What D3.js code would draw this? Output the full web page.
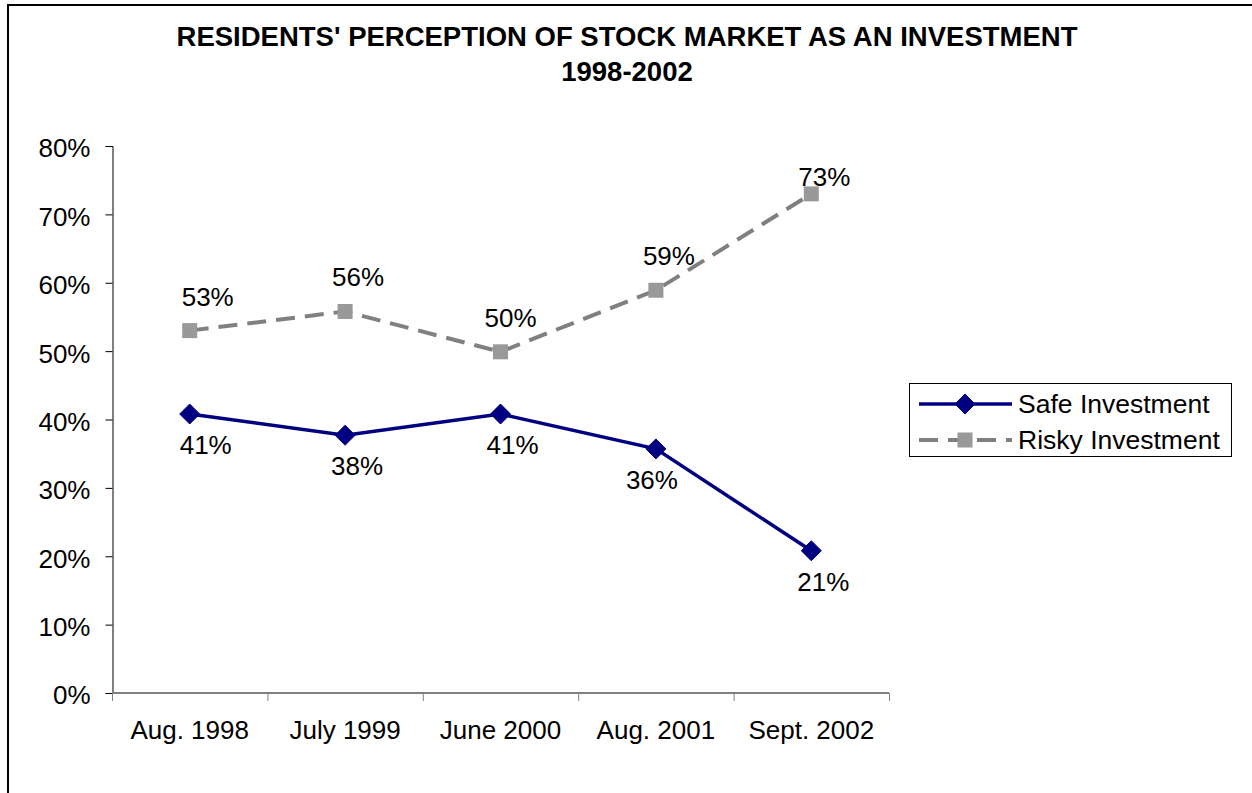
<!DOCTYPE html>
<html>
<head>
<meta charset="utf-8">
<script src="https://cdn.jsdelivr.net/npm/d3@7"></script>
<style>
  html, body { margin: 0; padding: 0; background: #fff; }
  svg { display: block; font-family: "Liberation Sans", Arial, sans-serif; }
</style>
</head>
<body>
<svg id="chart" width="1252" height="793"></svg>
<script>
const categories = ["Aug. 1998", "July 1999", "June 2000", "Aug. 2001", "Sept. 2002"];
const safeValues = [0.408, 0.377, 0.408, 0.357, 0.208];
const riskyValues = [0.530, 0.558, 0.499, 0.589, 0.730];
const seriesNames = ["Safe Investment", "Risky Investment"];
const yTicks = [0, 0.1, 0.2, 0.3, 0.4, 0.5, 0.6, 0.7, 0.8];
const titleLines = ["RESIDENTS' PERCEPTION OF STOCK MARKET AS AN INVESTMENT", "1998-2002"];

const svg = d3.select("#chart");
const plot = { left: 112, right: 889, top: 146, bottom: 693 };

// outer border (extends past the window on right/bottom)
svg.append("rect").attr("x", 8).attr("y", 5).attr("width", 1400).attr("height", 1000)
  .attr("fill", "none").attr("stroke", "#000").attr("stroke-width", 2);

// title
const title = svg.append("text").attr("text-anchor", "middle")
  .attr("font-weight", "bold").attr("font-size", 27.5).attr("fill", "#000");
title.selectAll("tspan").data(titleLines).join("tspan")
  .attr("x", 627).attr("y", (d, i) => i === 0 ? 46 : 81).text(d => d);

const x = d3.scaleBand().domain(categories).range([plot.left, plot.right]).padding(0);
const y = d3.scaleLinear().domain([0, 0.8]).range([plot.bottom, plot.top]);
const cx = d => x(d) + x.bandwidth() / 2;

// y axis
const yAxis = d3.axisLeft(y).tickValues(yTicks).tickFormat(d3.format(".0%")).tickSize(7).tickPadding(15);
const gy = svg.append("g").attr("transform", `translate(${plot.left + 0.5},0)`).call(yAxis);
gy.select(".domain").attr("stroke", "#000").attr("stroke-width", 1);
gy.selectAll(".tick line").attr("stroke", "#000");
gy.selectAll(".tick text").attr("font-size", 26).attr("fill", "#000")
  .attr("font-family", "Liberation Sans, Arial, sans-serif").attr("dy", "0.42em");

// x axis with ticks at category boundaries
const gx = svg.append("g").attr("transform", `translate(0,${plot.bottom})`);
gx.append("line").attr("x1", plot.left).attr("x2", plot.right).attr("y1", 0).attr("y2", 0)
  .attr("stroke", "#808080").attr("stroke-width", 2);
const boundaries = categories.map(c => x(c)).concat([x(categories[categories.length - 1]) + x.bandwidth()]);
gx.selectAll("line.tk").data(boundaries).join("line").attr("class", "tk")
  .attr("x1", d => d + 0.5).attr("x2", d => d + 0.5).attr("y1", 0).attr("y2", 8)
  .attr("stroke", "#808080").attr("stroke-width", 1);
gx.selectAll("text").data(categories).join("text")
  .attr("x", d => cx(d)).attr("y", 46).attr("text-anchor", "middle")
  .attr("font-size", 26).attr("fill", "#000").text(d => d);

// lines
const line = d3.line().x((d, i) => cx(categories[i])).y(d => y(d));

svg.append("path").datum(riskyValues).attr("d", line).attr("fill", "none")
  .attr("stroke", "#808080").attr("stroke-width", 4).attr("stroke-dasharray", "19,10");
svg.append("path").datum(safeValues).attr("d", line).attr("fill", "none")
  .attr("stroke", "#000080").attr("stroke-width", 3.5);

const diamond = (g, px, py) => g.append("path")
  .attr("d", `M${px},${py - 10}L${px + 10},${py}L${px},${py + 10}L${px - 10},${py}Z`)
  .attr("fill", "#000080").attr("stroke", "#000080").attr("stroke-width", 1).attr("stroke-linejoin", "round");
const square = (g, px, py) => g.append("rect")
  .attr("x", px - 7.5).attr("y", py - 7.5).attr("width", 15).attr("height", 15).attr("fill", "#999999");

const marks = svg.append("g");
riskyValues.forEach((v, i) => square(marks, cx(categories[i]), y(v)));
safeValues.forEach((v, i) => diamond(marks, cx(categories[i]), y(v)));

// data labels (risky above, safe below; a couple were hand-nudged in the original)
const fmt = d3.format(".0%");
const riskyLabelPos = (d, i) => {
  let dx = 13, dy = -25;
  if (i === 0) dx = 18;
  if (i === 2) dx = 10;
  if (i === riskyValues.length - 1) dy = -8;
  return [cx(categories[i]) + dx, y(d) + dy];
};
const safeLabelPos = (d, i) => {
  let dx = 12, dy = 40;
  if (i === 0) dx = 16;
  if (i === 3) dx = -4;
  return [cx(categories[i]) + dx, y(d) + dy];
};
svg.append("g").selectAll("text").data(riskyValues).join("text")
  .attr("x", (d, i) => riskyLabelPos(d, i)[0]).attr("y", (d, i) => riskyLabelPos(d, i)[1])
  .attr("text-anchor", "middle").attr("font-size", 26).attr("fill", "#000").text(d => fmt(d));
svg.append("g").selectAll("text").data(safeValues).join("text")
  .attr("x", (d, i) => safeLabelPos(d, i)[0]).attr("y", (d, i) => safeLabelPos(d, i)[1])
  .attr("text-anchor", "middle").attr("font-size", 26).attr("fill", "#000").text(d => fmt(d));

// legend
const lg = svg.append("g");
lg.append("rect").attr("x", 909.5).attr("y", 383.5).attr("width", 322).attr("height", 73)
  .attr("fill", "#fff").attr("stroke", "#000").attr("stroke-width", 1);
const ly = [404, 440];
lg.append("line").attr("x1", 919).attr("x2", 1012).attr("y1", ly[0]).attr("y2", ly[0])
  .attr("stroke", "#000080").attr("stroke-width", 3.5);
diamond(lg, 965, ly[0]);
lg.append("line").attr("x1", 919).attr("x2", 1012).attr("y1", ly[1]).attr("y2", ly[1])
  .attr("stroke", "#808080").attr("stroke-width", 4).attr("stroke-dasharray", "19,10");
square(lg, 965, ly[1]);
lg.selectAll("text").data(seriesNames).join("text")
  .attr("x", 1018).attr("y", (d, i) => ly[i] + 9).attr("font-size", 26.5).attr("fill", "#000").text(d => d);
</script>
</body>
</html>
